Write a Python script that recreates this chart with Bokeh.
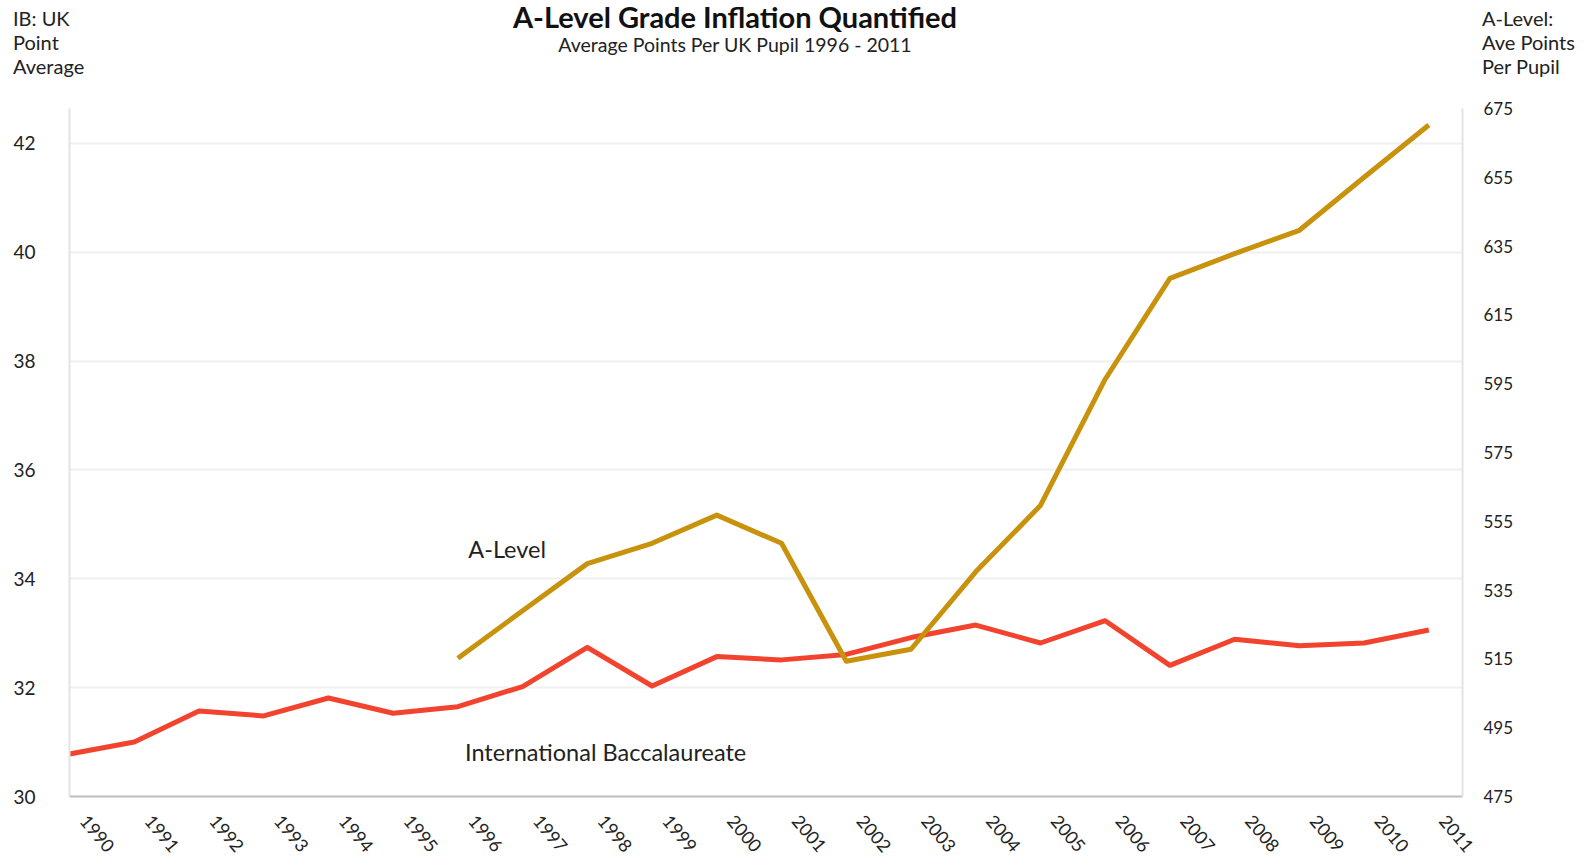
from bokeh.plotting import figure
from bokeh.models import Range1d, LinearAxis, FixedTicker, Label, Div
from bokeh.layouts import column
from bokeh.embed import file_html
from bokeh.resources import INLINE

years = list(range(1990, 2012))
ib_points = [30.78, 31.00, 31.57, 31.48, 31.81, 31.53, 31.65, 32.02, 32.74, 32.03,
             32.57, 32.51, 32.61, 32.92, 33.15, 32.82, 33.23, 32.41, 32.89, 32.77,
             32.82, 33.06]
alevel_years = list(range(1996, 2012))
alevel_points = [515.2, 529.0, 542.7, 548.6, 556.8, 548.6, 514.3, 517.8, 540.3, 559.6,
                 596.3, 625.6, 632.8, 639.6, 655.0, 670.2]
left_ticks = [30, 32, 34, 36, 38, 40, 42]
right_ticks = [475, 495, 515, 535, 555, 575, 595, 615, 635, 655, 675]

title_text = "A-Level Grade Inflation Quantified"
subtitle_text = "Average Points Per UK Pupil 1996 - 2011"
left_caption = ["IB: UK", "Point", "Average"]
right_caption = ["A-Level:", "Ave Points", "Per Pupil"]

FONT = "Lato"
TXT = "#222222"
GOLD = "#C8920C"
RED = "#F2432E"
W = 1587
HEAD = 96
TOP = 12

# ---------- header: titles and axis captions ----------
def span(txt, left, top, size, weight="normal", color=TXT, center=False):
    style = (f"position:absolute;top:{top}px;font-family:{FONT};font-size:{size}px;"
             f"line-height:1;font-weight:{weight};color:{color};white-space:nowrap;")
    if center:
        style += f"left:0;width:{2 * left}px;text-align:center;"
    else:
        style += f"left:{left}px;"
    return f'<div style="{style}">{txt}</div>'

parts = [span(title_text, 735, 1.6, 29, "bold", "#111111", center=True),
         span(subtitle_text, 735, 35.3, 19.5, center=True)]
for txt, t in zip(left_caption, [7.6, 31.9, 56.2]):
    parts.append(span(txt, 13, t, 20))
for txt, t in zip(right_caption, [7.6, 31.9, 56.2]):
    parts.append(span(txt, 1482, t, 20))
html = (f'<div style="position:relative;width:{W}px;height:{HEAD}px;margin:0;padding:0;">'
        + "".join(parts) + "</div>")
header = Div(text=html, width=W, height=HEAD, margin=(0, 0, 0, 0))

# ---------- main chart ----------
p = figure(width=W, height=860 - HEAD, output_backend="svg", toolbar_location=None,
           x_range=Range1d(1990, 2011.52), y_range=Range1d(30, 42.64),
           min_border_left=69, min_border_right=125, min_border_top=TOP,
           min_border_bottom=61)
p.outline_line_color = None
p.background_fill_color = "white"
p.border_fill_color = "white"

p.extra_y_ranges = {"alevel": Range1d(475, 675)}

label_shift = 0.22
xa = p.xaxis[0]
xa.ticker = FixedTicker(ticks=[y + label_shift for y in years])
xa.major_label_overrides = {y + label_shift: str(y) for y in years}
xa.major_label_orientation = -0.87
xa.major_tick_line_color = None
xa.minor_tick_line_color = None
xa.axis_line_color = "#BDBDBD"
xa.axis_line_width = 2
xa.major_label_text_font = FONT
xa.major_label_text_font_size = "18px"
xa.major_label_text_color = TXT
xa.major_label_standoff = 15

ya = p.yaxis[0]
ya.ticker = FixedTicker(ticks=left_ticks)
ya.major_tick_line_color = None
ya.minor_tick_line_color = None
ya.axis_line_color = "#E3E3E3"
ya.axis_line_width = 2
ya.major_label_text_font = FONT
ya.major_label_text_font_size = "19px"
ya.major_label_text_color = TXT
ya.major_label_standoff = 28

ra = LinearAxis(y_range_name="alevel", ticker=FixedTicker(ticks=right_ticks))
ra.major_tick_line_color = None
ra.minor_tick_line_color = None
ra.axis_line_color = "#E3E3E3"
ra.axis_line_width = 2
ra.major_label_text_font = FONT
ra.major_label_text_font_size = "17px"
ra.major_label_text_color = TXT
ra.major_label_standoff = 15
p.add_layout(ra, "right")

p.xgrid.grid_line_color = None
p.ygrid.grid_line_color = "#F0F0F0"
p.ygrid.grid_line_width = 2
p.ygrid.ticker = FixedTicker(ticks=left_ticks)

p.line(years, ib_points, line_color=RED, line_width=5, line_join="round")
p.line(alevel_years, alevel_points, line_color=GOLD, line_width=5,
       line_join="round", y_range_name="alevel")

p.add_layout(Label(x=1996.16, y=34.55, text="A-Level", text_font=FONT,
                   text_font_size="23.5px", text_color=TXT, text_baseline="alphabetic"))
p.add_layout(Label(x=1996.11, y=30.81, text="International Baccalaureate", text_font=FONT,
                   text_font_size="23.5px", text_color=TXT, text_baseline="alphabetic"))

layout = column(header, p, spacing=0)
open("out.html", "w").write(file_html(layout, INLINE))
